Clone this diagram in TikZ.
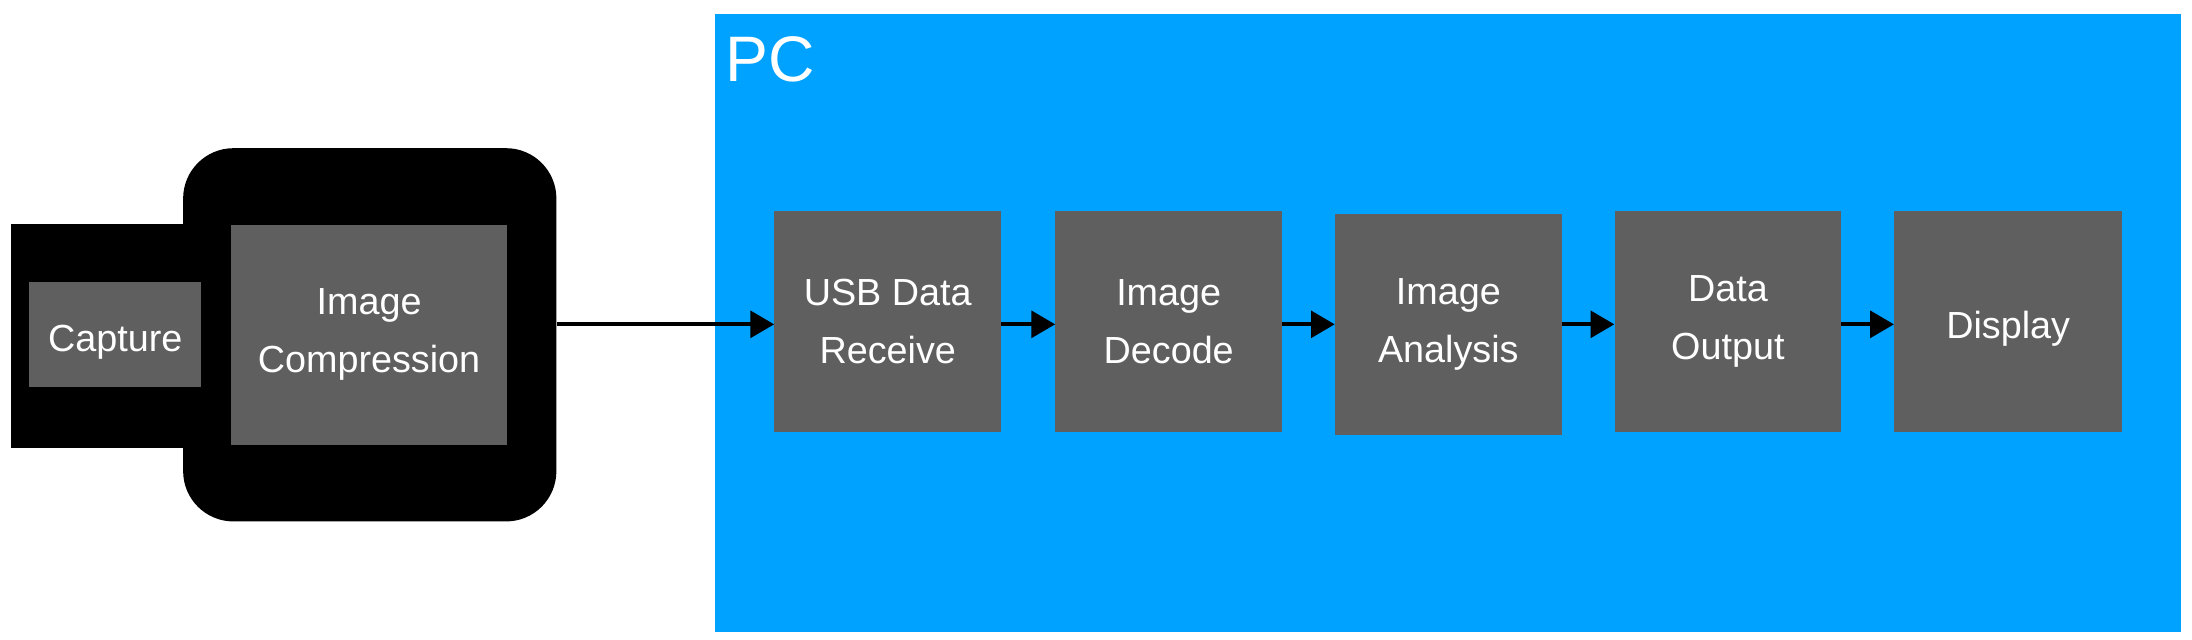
\documentclass[tikz,border=0pt]{standalone}
\usepackage{fontspec}
\setmainfont{Liberation Sans}
\usetikzlibrary{arrows.meta}
\definecolor{pcblue}{RGB}{0,162,255}
\definecolor{boxgray}{RGB}{95,95,95}
\tikzset{
  gbox/.style={fill=boxgray, text=white, align=center, inner sep=0pt,
    font=\fontsize{27}{41.5}\selectfont, execute at begin node={\rule{0pt}{30pt}}},
  arr/.style={line width=3pt, -{Triangle[length=17pt,width=19pt]}},
}
\begin{document}
\begin{tikzpicture}[x=1pt,y=-1pt]
\useasboundingbox[fill=white] (0,0) rectangle (1568,457.8);
% PC container
\node[fill=pcblue, inner sep=0pt, minimum width=1049pt, minimum height=442pt, anchor=north west] (pc) at (511,10) {};
\node[anchor=base west, text=white, inner sep=0pt, font=\fontsize{46}{52}\selectfont] (pclabel) at (519,58) {PC};
% camera device
\node[fill=black, inner sep=0pt, minimum width=180pt, minimum height=160pt, anchor=north west] (camback) at (8,160) {};
\node[fill=black, inner sep=0pt, minimum width=267pt, minimum height=267pt, rounded corners=36pt] (cam) at (264.5,239.5) {};
\node[gbox, minimum width=123pt, minimum height=75pt] (cap) at (82.5,239.5) {Capture};
\node[gbox, minimum width=198pt, minimum height=157pt] (comp) at (264,239.5) {Image\\Compression};
% PC blocks
\node[gbox, minimum width=162pt, minimum height=158pt] (usb) at (635,230) {USB Data\\Receive};
\node[gbox, minimum width=162pt, minimum height=158pt] (dec) at (836,230) {Image\\Decode};
\node[gbox, minimum width=162pt, minimum height=158pt] (ana) at (1036,232) {Image\\Analysis};
\node[gbox, minimum width=162pt, minimum height=158pt] (out) at (1236,230) {Data\\Output};
\node[gbox, minimum width=163pt, minimum height=158pt] (disp) at (1436.5,230) {Display};
% connectors
\draw[arr] ([yshift=-2pt]usb.west -| cam.east) -- ([yshift=-2pt]usb.west);
\draw[arr] ([yshift=-2pt]usb.east) -- ([yshift=-2pt]dec.west);
\draw[arr] ([yshift=-2pt]dec.east) -- ([yshift=-2pt]dec.east -| ana.west);
\draw[arr] ([yshift=-2pt]out.west -| ana.east) -- ([yshift=-2pt]out.west);
\draw[arr] ([yshift=-2pt]out.east) -- ([yshift=-2pt]disp.west);
\end{tikzpicture}
\end{document}
